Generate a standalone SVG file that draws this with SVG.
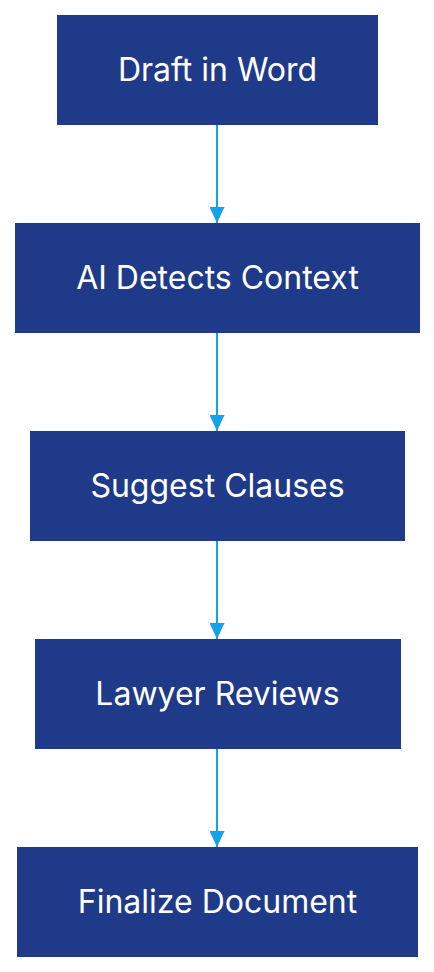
<svg xmlns="http://www.w3.org/2000/svg" width="434" height="972" viewBox="0 0 434 972">
<style>
.n rect{fill:#1f3a89;}
.n text{fill:#ffffff;font-family:Inter,"Noto Sans",sans-serif;font-size:32px;text-anchor:middle;}
.c line{stroke:#13a3e6;stroke-width:2;}
</style>
<defs>
<marker id="ah" viewBox="0 0 16 15" refX="16" refY="7.5" markerWidth="16" markerHeight="15" markerUnits="userSpaceOnUse" orient="auto">
<path d="M0,0 L16,7.5 L0,15 z" fill="#13a3e6"/>
</marker>
</defs>
<rect width="434" height="972" fill="#ffffff"/>
<g id="connectors" class="c">
<line x1="217" y1="125" x2="217" y2="223" marker-end="url(#ah)"/>
<line x1="217" y1="333" x2="217" y2="431" marker-end="url(#ah)"/>
<line x1="217" y1="541" x2="217" y2="639" marker-end="url(#ah)"/>
<line x1="217" y1="749" x2="217" y2="847" marker-end="url(#ah)"/>
</g>
<g id="n1" class="n"><rect x="57" y="15" width="321" height="110"/><text x="217.5" y="81">Draft in Word</text></g>
<g id="n2" class="n"><rect x="15" y="223" width="405" height="110"/><text x="217.5" y="289">AI Detects Context</text></g>
<g id="n3" class="n"><rect x="30" y="431" width="375" height="110"/><text x="217.5" y="497">Suggest Clauses</text></g>
<g id="n4" class="n"><rect x="35" y="639" width="366" height="110"/><text x="217.5" y="705">Lawyer Reviews</text></g>
<g id="n5" class="n"><rect x="17" y="847" width="401" height="110"/><text x="217.5" y="913">Finalize Document</text></g>
</svg>
